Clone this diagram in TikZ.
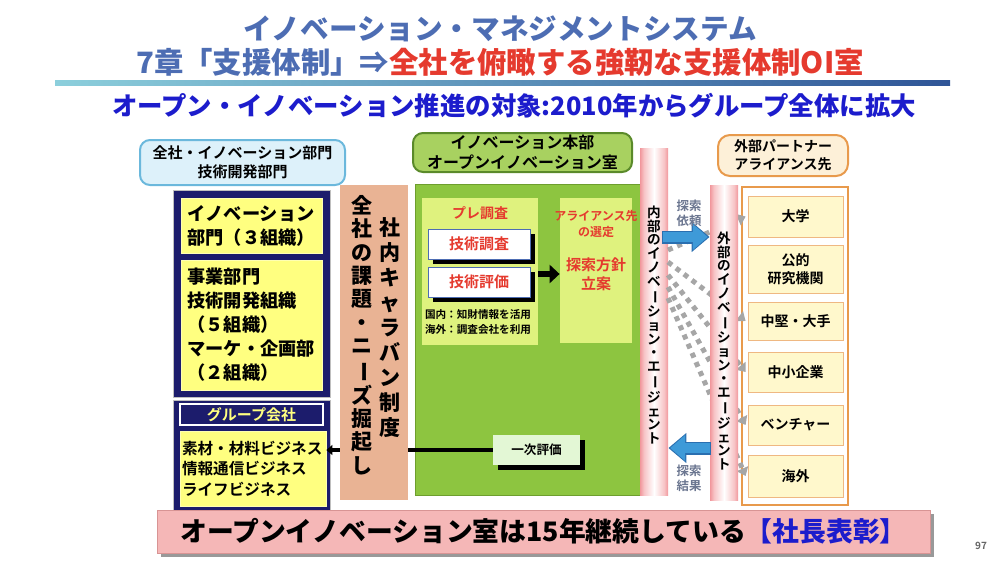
\documentclass[tikz,border=0pt]{standalone}
\usepackage{fontspec}
\setmainfont{Noto Sans CJK JP Bold}
\newfontfamily\heavy{Noto Sans CJK JP Black}
\usetikzlibrary{fit,shadows,arrows.meta}

\definecolor{titleblue}{HTML}{4D6DB3}
\definecolor{titlered}{HTML}{E53A2E}
\definecolor{targetblue}{HTML}{1C1CCC}
\definecolor{rulecyan}{HTML}{8CCFDC}
\definecolor{rulenavy}{HTML}{2F5597}
\definecolor{deptblue}{HTML}{DDF1FA}
\definecolor{deptline}{HTML}{6BB8DC}
\definecolor{navy}{HTML}{1C1C6C}
\definecolor{boxyellow}{HTML}{FFFF80}
\definecolor{caravan}{HTML}{E9B394}
\definecolor{hqgreen}{HTML}{A8D160}
\definecolor{hqline}{HTML}{5A8A2A}
\definecolor{oigreen}{HTML}{8DC540}
\definecolor{oiline}{HTML}{6E9E2E}
\definecolor{panelgreen}{HTML}{DFF27E}
\definecolor{mint}{HTML}{E3F7D5}
\definecolor{barred}{HTML}{E8505A}
\definecolor{barpink}{HTML}{F7C4C6}
\definecolor{searchblue}{HTML}{3E9AD8}
\definecolor{searchline}{HTML}{2A6FB0}
\definecolor{searchgrey}{HTML}{6B7690}
\definecolor{partnerfill}{HTML}{FDF0D8}
\definecolor{partnerline}{HTML}{E89A4C}
\definecolor{partneryellow}{HTML}{FFF8CC}
\definecolor{bannerpink}{HTML}{F5B7B7}
\definecolor{bannerline}{HTML}{D89494}

\newcommand{\fsz}[2]{\fontsize{#1}{#2}\selectfont}
\newcommand{\tatebar}{\rotatebox[origin=c]{-90}{ー}}

\pgfdeclarehorizontalshading{agentbar}{100bp}{color(0bp)=(barred); color(14bp)=(barred);
  color(32bp)=(barpink); color(50bp)=(white); color(68bp)=(barpink);
  color(86bp)=(barred); color(100bp)=(barred)}

\tikzset{
  yelbox/.style={fill=boxyellow, draw=boxyellow!60!white},
  whitebox/.style={fill=white, draw=titleblue,
    drop shadow={shadow xshift=2.5pt, shadow yshift=-2.5pt, fill=black, opacity=1}},
  partnerbox/.style={fill=partneryellow, draw=partnerline!70},
  partnertext/.style={font=\fsz{7}{9}, align=center},
  agenttext/.style={font=\fsz{6.8}{6.9}, align=center},
  searcharrow/.style={searchblue, line width=5pt, -{Triangle[length=7.5pt, width=12.5pt]}},
  explorearrow/.style={black!35, line width=2.5pt, dash pattern=on 2.5pt off 2.5pt,
    -{Triangle[length=4pt, width=6pt]}}
}

\begin{document}
\begin{tikzpicture}[x=0.5pt, y=-0.5pt, every node/.style={inner sep=0pt}]
\useasboundingbox (0,0) rectangle (1000,563);

% titles
\node[font=\heavy\fsz{14.3}{16}, text=titleblue] (title) at (500,29) {イノベーション・マネジメントシステム};
\node[font=\heavy\fsz{14.7}{16}] (chapter) at (500,62)
  {\textcolor{titleblue}{7章「支援体制」⇒}\textcolor{titlered}{全社を俯瞰する強靭な支援体制OI室}};
\shade[left color=rulecyan, right color=rulenavy] (55,80) rectangle (950,85);
\node[font=\heavy\fsz{12.7}{14}, text=targetblue] (target) at (514,106)
  {オープン・イノベーション推進の対象:2010年からグループ全体に拡大};

% company-wide departments
\node[draw=deptline, fill=deptblue, rounded corners=5pt, line width=1pt, fit={(140,140)(345,185)}] (dept) {};
\node[align=center, font=\fsz{7.5}{9.6}] (depttext) at (dept) {全社・イノベーション部門\\技術開発部門};
\node[fill=navy, draw=black!25, fit={(173,190)(330,397)}] (deptframe) {};
\node[yelbox, fit={(181,198)(322,253)}] (innodiv) {};
\node[text width=64pt, align=left, font=\heavy\fsz{9.1}{12}] (innodivtext) at (innodiv)
  {イノベーション\\部門（３組織）};
\node[yelbox, fit={(181,260)(322,390)}] (bizdiv) {};
\node[text width=64pt, align=left, font=\heavy\fsz{9.1}{12}] (bizdivtext) at (bizdiv)
  {事業部門\\技術開発組織\\（５組織）\\マーケ・企画部\\（２組織）};

% group companies
\node[fill=navy, draw=black!25, fit={(173,400)(330,510)}] (groupframe) {};
\node[fill=navy, draw=white, line width=0.8pt, fit={(180,404)(323,425)}] (grouphead) {};
\node[text=boxyellow, font=\fsz{7.5}{9}] (groupheadtext) at (grouphead) {グループ会社};
\node[yelbox, fit={(180,431)(326,506)}] (groupbody) {};
\node[text width=71pt, align=left, font=\fsz{7.8}{10.3}] (groupbodytext) at (groupbody)
  {素材・材料ビジネス\\情報通信ビジネス\\ライフビジネス};

% open innovation office
\node[fill=hqgreen, draw=hqline, rounded corners=5pt, line width=1pt, fit={(413,133)(632,172)}] (hq) {};
\node[align=center, font=\fsz{8}{9.8}] (hqtext) at (hq) {イノベーション本部\\オープンイノベーション室};
\node[fill=oigreen, draw=oiline, fit={(415,184)(640,495)}] (oiroom) {};
\node[fill=panelgreen, fit={(422,198)(538,345)}] (prepanel) {};
\node[fill=panelgreen, fit={(560,198)(632,343)}] (allipanel) {};
\node[text=titlered, font=\fsz{7}{8}] (pretitle) at (480,213) {プレ調査};
\node[whitebox, fit={(428,229)(530,259)}] (techsurvey) {};
\node[text=titlered, font=\fsz{7.5}{9}] (techsurveytext) at (techsurvey) {技術調査};
\node[whitebox, fit={(428,267)(530,297)}] (techeval) {};
\node[text=titlered, font=\fsz{7.5}{9}] (techevaltext) at (techeval) {技術評価};
\node[font=\fsz{5.3}{7.2}, align=left] (notes) at (478,322) {国内：知財情報を活用\\海外：調査会社を利用};
\node[text=titlered, font=\fsz{6}{8}, align=center] (alliance) at (596,224) {アライアンス先\\の選定};
\node[text=titlered, font=\fsz{7.5}{9.5}, align=center] (policy) at (596,274) {探索方針\\立案};
\draw[line width=3pt, -{Triangle[length=5pt, width=9pt]}] (prepanel.east |- policy) -- (allipanel.west |- policy);
\node[fill=mint, fit={(493,435)(580,465)},
  drop shadow={shadow xshift=2.5pt, shadow yshift=-2.5pt, fill=black, opacity=1}] (firsteval) {};
\node[font=\fsz{6.3}{8}] (firstevaltext) at (firsteval) {一次評価};
\draw[line width=2pt, -{Triangle[length=3pt, width=5pt]}] (firsteval.west) -- (groupbody.east |- firsteval.west);

% caravan
\node[fill=caravan, fit={(340,185)(408,500)}] (caravanbox) {};
\node[font=\heavy\fsz{10.5}{12.5}, align=center] (caravanR) at (390,328)
  {社\\内\\キ\\ャ\\ラ\\バ\\ン\\制\\度};
\node[font=\heavy\fsz{10.5}{11.7}, align=center] (caravanL) at (362,335)
  {全\\社\\の\\課\\題\\・\\ニ\\\tatebar\\ズ\\掘\\起\\し};

% agents
\node[shading=agentbar, fit={(640,148)(668,495)}] (inagent) {};
\node[agenttext] (inagenttext) at (654,325)
  {内\\部\\の\\イ\\ノ\\ベ\\\tatebar\\シ\\ョ\\ン\\・\\エ\\\tatebar\\ジ\\ェ\\ン\\ト};

% partners
\node[fill=partnerfill, draw=partnerline, rounded corners=6pt, line width=1pt, fit={(718,135)(848,176)}] (partnerhead) {};
\node[partnertext] (partnerheadtext) at (partnerhead) {外部パートナー\\アライアンス先};
\node[fill=white, draw=partnerline, line width=1.2pt, fit={(742,187)(848,505)}] (partnerframe) {};
\foreach \name/\top/\bot/\txt in {univ/196/237/大学, public/245/293/公的\\研究機関,
    large/302/340/中堅・大手, sme/352/392/中小企業, venture/405/445/ベンチャー, overseas/455/497/海外} {
  \node[partnerbox, fit={(748,\top)(843,\bot)}] (\name) {};
  \node[partnertext] (\name text) at (\name) {\txt};
}

% exploration
\coordinate (fan1) at (668,250);
\coordinate (fan2) at (668,262);
\coordinate (fan3) at (668,275);
\coordinate (fan4) at (668,287);
\coordinate (fan5) at (668,298);
\foreach \src/\dst in {fan1/univ, fan2/large, fan3/sme, fan4/venture, fan5/overseas}
  \draw[explorearrow] (\src) -- ([xshift=-1pt]\dst.west);

\node[shading=agentbar, fit={(710,185)(738,500)}] (exagent) {};
\node[agenttext] (exagenttext) at (724,351)
  {外\\部\\の\\イ\\ノ\\ベ\\\tatebar\\シ\\ョ\\ン\\・\\エ\\\tatebar\\ジ\\ェ\\ン\\ト};

\coordinate (reqstart) at (662,237);
\coordinate (resstart) at (711,448);
\draw[searchline, line width=6.5pt, -{Triangle[length=9pt, width=14.5pt]}] (reqstart) -- (exagent.west |- reqstart);
\draw[searcharrow, shorten >=0.9pt] ([xshift=0.5pt]reqstart) -- (exagent.west |- reqstart);
\draw[searchline, line width=6.5pt, -{Triangle[length=9pt, width=14.5pt]}] (resstart) -- (inagent.east |- resstart);
\draw[searcharrow, shorten >=0.9pt] ([xshift=-0.5pt]resstart) -- (inagent.east |- resstart);
\node[text=searchgrey, font=\fsz{6.2}{7.6}, align=center] (reqlabel) at (689,213) {探索\\依頼};
\node[text=searchgrey, font=\fsz{6.2}{7.6}, align=center] (reslabel) at (689,478) {探索\\結果};

% banner
\node[fill=bannerpink, draw=bannerline, fit={(157,510)(930,553)},
  drop shadow={shadow xshift=2pt, shadow yshift=-2pt, fill=black!40, opacity=1}] (banner) {};
\node[font=\heavy\fsz{13.4}{15}] (bannertext) at (banner)
  {オープンイノベーション室は15年継続している\textcolor{targetblue}{【社長表彰】}};
\node[text=black!60, font=\fsz{5}{6}] (pageno) at (981,546) {97};
\end{tikzpicture}
\end{document}
